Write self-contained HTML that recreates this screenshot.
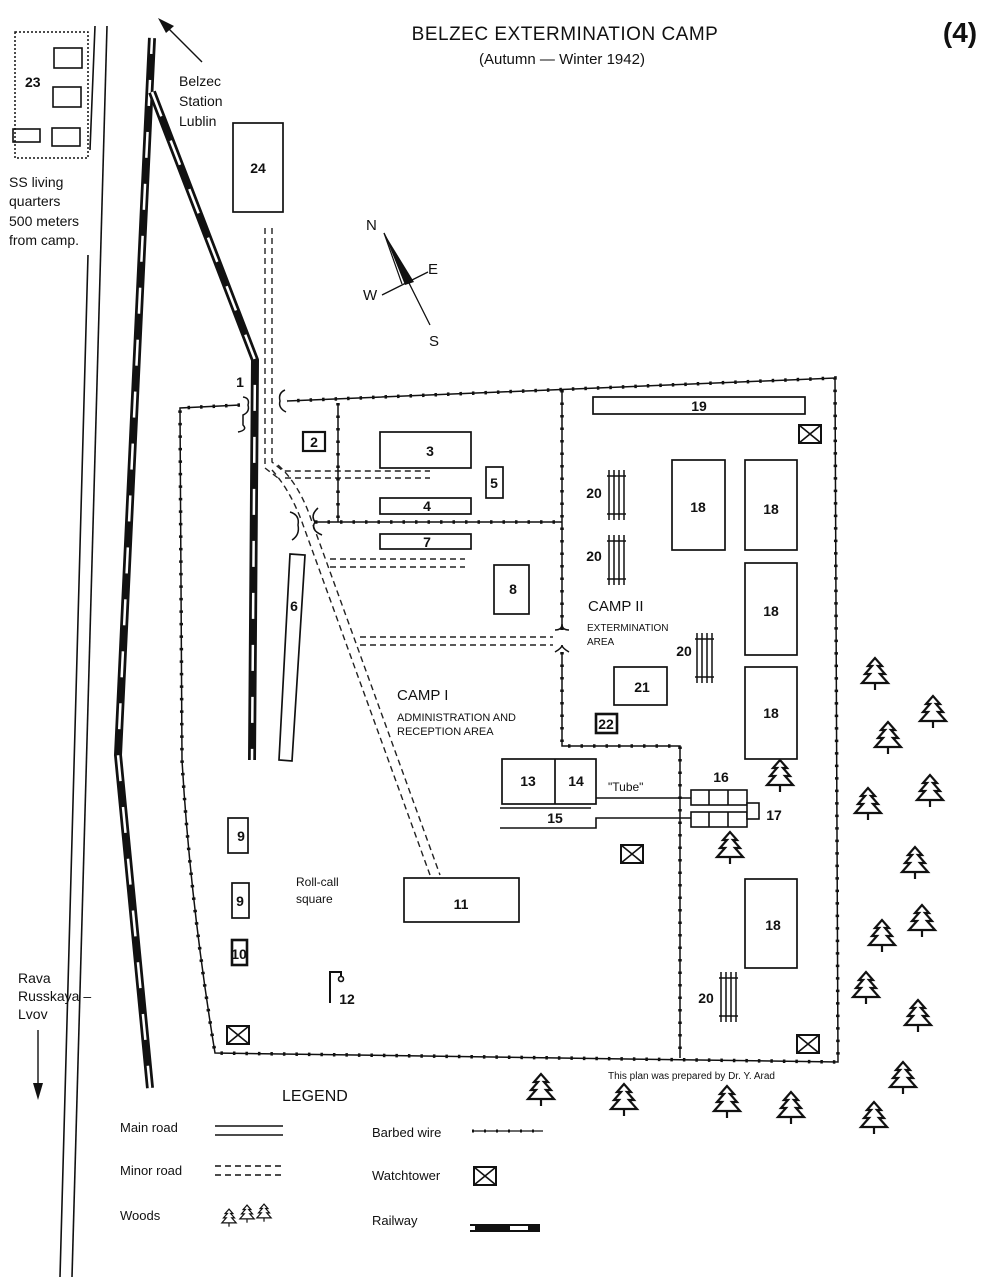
<!DOCTYPE html>
<html><head><meta charset="utf-8"><style>
body{margin:0;background:#fff}
svg{display:block}
text{font-family:"Liberation Sans",sans-serif;fill:#111}
.b{font-weight:bold}
</style></head><body>
<svg width="1000" height="1277" viewBox="0 0 1000 1277" xmlns="http://www.w3.org/2000/svg">
<defs>
<g id="tree" fill="none" stroke="#111" stroke-width="2.2" stroke-linejoin="miter">
<path d="M0,-18 L-7,-10 L-3,-10 L-10,-2 L-5,-2 L-13,7 L13,7 L5,-2 L10,-2 L3,-10 L7,-10 Z" fill="#fff"/>
<path d="M0,7 L0,14"/>
</g>
<g id="wt"><rect x="-11" y="-9" width="22" height="18" fill="#fff" stroke="#111" stroke-width="2"/><path d="M-11,-9 L11,9 M11,-9 L-11,9" stroke="#111" stroke-width="1.6"/></g>
<g id="rack" stroke="#111" stroke-width="1.5"><path d="M2,0 V50 M7,0 V50 M12,0 V50 M17,0 V50 M0,6 H19 M0,44 H19"/></g>
</defs>

<!-- titles -->
<text x="565" y="40" font-size="19" text-anchor="middle" letter-spacing="0.5">BELZEC EXTERMINATION CAMP</text>
<text x="562" y="64" font-size="15" text-anchor="middle">(Autumn — Winter 1942)</text>
<text x="960" y="42" font-size="28" class="b" text-anchor="middle">(4)</text>

<!-- main road -->
<g stroke="#111" stroke-width="1.6" fill="none">
<path d="M95,26 L90,150 M88,255 L60,1277"/>
<path d="M107,26 L72,1277"/>
</g>

<!-- SS quarters 23 -->
<g fill="none" stroke="#111">
<path d="M15,32 H88 V158 H15 Z" stroke-width="1.5" stroke-dasharray="2 2"/>
<rect x="54" y="48" width="28" height="20" stroke-width="1.6"/>
<rect x="53" y="87" width="28" height="20" stroke-width="1.6"/>
<rect x="52" y="128" width="28" height="18" stroke-width="1.6"/>
<rect x="13" y="129" width="27" height="13" stroke-width="1.6"/>
</g>
<text x="25" y="87" font-size="14" class="b">23</text>
<text x="9" y="187" font-size="14">SS living</text>
<text x="9" y="206" font-size="14">quarters</text>
<text x="9" y="226" font-size="14">500 meters</text>
<text x="9" y="245" font-size="14">from camp.</text>

<!-- arrow to Belzec station -->
<path d="M202,62 L165,25" stroke="#111" stroke-width="1.4"/>
<path d="M158,18 L174,26 L166,33 Z" fill="#111"/>
<text x="179" y="86" font-size="14">Belzec</text>
<text x="179" y="106" font-size="14">Station</text>
<text x="179" y="126" font-size="14">Lublin</text>

<!-- Rava Russkaya -->
<text x="18" y="983" font-size="14">Rava</text>
<text x="18" y="1001" font-size="14">Russkaya –</text>
<text x="18" y="1019" font-size="14">Lvov</text>
<path d="M38,1030 V1090" stroke="#111" stroke-width="1.4"/>
<path d="M33,1083 L38,1100 L43,1083 Z" fill="#111"/>

<!-- railway -->
<g fill="none" stroke-linejoin="round">
<path d="M152,38 L118,755 L150,1088" stroke="#111" stroke-width="8"/>
<path d="M152,38 L118,755 L150,1088" stroke="#fff" stroke-width="2.5" stroke-dasharray="26 26" stroke-dashoffset="10"/>
<path d="M152,92 L255,360 L252,760" stroke="#111" stroke-width="8"/>
<path d="M152,92 L255,360 L252,760" stroke="#fff" stroke-width="2.5" stroke-dasharray="26 26"/>
</g>

<!-- minor roads -->
<g fill="none" stroke="#222" stroke-width="1.4" stroke-dasharray="6 4">
<path d="M265,228 V468 L278,478"/>
<path d="M272,228 V462 L283,471 H430"/>
<path d="M285,478 H430"/>
<path d="M272,470 Q290,490 302,522 L430,875"/>
<path d="M278,465 Q300,485 312,522 L440,875"/>
<path d="M330,559 H465 M330,567 H465"/>
<path d="M360,637 H553 M360,645 H553"/>
</g>

<!-- barbed wire -->
<g fill="none" stroke="#111" stroke-width="1.5">
<path id="bw" d="M240,405 L180,408 L182,760 Q190,900 215,1053 L838,1062 L835,378 L287,401"/>
<path d="M562,390 V630 M562,652 V746 H680 V1058"/>
<path d="M338,403 V522 M315,522 H562"/>
</g>
<g fill="none" stroke="#111" stroke-width="3.5" stroke-dasharray="2.5 10">
<path d="M240,405 L180,408 L182,760 Q190,900 215,1053 L838,1062 L835,378 L287,401"/>
<path d="M562,390 V630 M562,652 V746 H680 V1058"/>
<path d="M338,403 V522 M315,522 H562"/>
</g>
<!-- gates -->
<g fill="none" stroke="#111" stroke-width="1.5">
<path d="M243,397 Q250,398 248,405 Q250,412 243,415 V425 Q248,430 238,432"/>
<path d="M285,390 Q278,393 280,401 Q278,408 286,412"/>
<path d="M290,512 Q300,515 298,525 Q300,535 292,540"/>
<path d="M318,508 Q310,515 315,522 Q310,530 322,535"/>
<path d="M555,630 Q562,630 562,624 Q562,630 569,630"/>
<path d="M555,652 Q562,648 562,645 Q562,648 569,652"/>
</g>

<!-- buildings -->
<g fill="#fff" stroke="#111" stroke-width="1.7">
<rect x="233" y="123" width="50" height="89"/>
<rect x="303" y="432" width="22" height="19" stroke-width="2.2"/>
<rect x="380" y="432" width="91" height="36"/>
<rect x="486" y="467" width="17" height="31"/>
<rect x="380" y="498" width="91" height="16"/>
<rect x="380" y="534" width="91" height="15"/>
<rect x="494" y="565" width="35" height="49"/>
<path d="M290,554 L305,555 L292,761 L279,760 Z"/>
<rect x="593" y="397" width="212" height="17"/>
<rect x="672" y="460" width="53" height="90"/>
<rect x="745" y="460" width="52" height="90"/>
<rect x="745" y="563" width="52" height="92"/>
<rect x="745" y="667" width="52" height="92"/>
<rect x="745" y="879" width="52" height="89"/>
<rect x="614" y="667" width="53" height="38"/>
<rect x="596" y="714" width="21" height="19" stroke-width="2.6"/>
<rect x="502" y="759" width="94" height="45"/>
<path d="M555,759 V804"/>
<rect x="404" y="878" width="115" height="44"/>
<rect x="228" y="818" width="20" height="35"/>
<rect x="232" y="883" width="17" height="35"/>
<rect x="232" y="940" width="15" height="25" stroke-width="2.6"/>
</g>
<!-- tube and chambers -->
<g fill="none" stroke="#111" stroke-width="1.6">
<path d="M596,798 H691 M591,808 H500"/>
<path d="M691,818 H596 V828 H500"/>
<rect x="691" y="790" width="56" height="15" fill="#fff"/>
<rect x="691" y="812" width="56" height="15" fill="#fff"/>
<path d="M709,790 V805 M728,790 V805 M709,812 V827 M728,812 V827"/>
<rect x="747" y="803" width="12" height="16" fill="#fff"/>
<path d="M330,1003 V972 H341 V976" stroke-width="2"/>
<circle cx="341" cy="979" r="2.5"/>
</g>

<!-- racks 20 -->
<use href="#rack" x="607" y="470"/>
<use href="#rack" x="607" y="535" transform="translate(0,0)"/>
<use href="#rack" x="695" y="633" transform="translate(0,0)"/>
<use href="#rack" x="719" y="972"/>

<!-- watchtowers -->
<use href="#wt" x="810" y="434"/>
<use href="#wt" x="632" y="854"/>
<use href="#wt" x="238" y="1035"/>
<use href="#wt" x="808" y="1044"/>

<!-- trees -->
<use href="#tree" x="875" y="676"/>
<use href="#tree" x="933" y="714"/>
<use href="#tree" x="888" y="740"/>
<use href="#tree" x="780" y="778"/>
<use href="#tree" x="930" y="793"/>
<use href="#tree" x="868" y="806"/>
<use href="#tree" x="730" y="850"/>
<use href="#tree" x="915" y="865"/>
<use href="#tree" x="922" y="923"/>
<use href="#tree" x="882" y="938"/>
<use href="#tree" x="866" y="990"/>
<use href="#tree" x="918" y="1018"/>
<use href="#tree" x="903" y="1080"/>
<use href="#tree" x="541" y="1092"/>
<use href="#tree" x="624" y="1102"/>
<use href="#tree" x="727" y="1104"/>
<use href="#tree" x="791" y="1110"/>
<use href="#tree" x="874" y="1120"/>

<!-- compass -->
<path d="M384,233 L414,282 L405,285 Z" fill="#111"/>
<path d="M384,233 L402,284" stroke="#111" stroke-width="1.2"/>
<path d="M384,233 L430,325 M382,295 L428,272" stroke="#111" stroke-width="1.3"/>
<text x="366" y="230" font-size="15">N</text>
<text x="428" y="274" font-size="15">E</text>
<text x="363" y="300" font-size="15">W</text>
<text x="429" y="346" font-size="15">S</text>

<!-- labels -->
<g font-size="14" class="b" text-anchor="middle">
<text x="258" y="173">24</text>
<text x="240" y="387">1</text>
<text x="314" y="447">2</text>
<text x="430" y="456">3</text>
<text x="494" y="488">5</text>
<text x="427" y="511">4</text>
<text x="427" y="547">7</text>
<text x="513" y="594">8</text>
<text x="294" y="611">6</text>
<text x="699" y="411">19</text>
<text x="698" y="512">18</text>
<text x="771" y="514">18</text>
<text x="771" y="616">18</text>
<text x="771" y="718">18</text>
<text x="773" y="930">18</text>
<text x="594" y="498">20</text>
<text x="594" y="561">20</text>
<text x="684" y="656">20</text>
<text x="706" y="1003">20</text>
<text x="642" y="692">21</text>
<text x="606" y="729">22</text>
<text x="528" y="786">13</text>
<text x="576" y="786">14</text>
<text x="721" y="782">16</text>
<text x="774" y="820">17</text>
<text x="555" y="823">15</text>
<text x="241" y="841">9</text>
<text x="240" y="906">9</text>
<text x="239" y="959">10</text>
<text x="461" y="909">11</text>
<text x="347" y="1004">12</text>
</g>
<text x="608" y="791" font-size="12">"Tube"</text>
<text x="588" y="611" font-size="15">CAMP II</text>
<text x="587" y="631" font-size="10">EXTERMINATION</text>
<text x="587" y="645" font-size="10">AREA</text>
<text x="397" y="700" font-size="15">CAMP I</text>
<text x="397" y="721" font-size="11">ADMINISTRATION AND</text>
<text x="397" y="735" font-size="11">RECEPTION AREA</text>
<text x="296" y="886" font-size="12">Roll-call</text>
<text x="296" y="903" font-size="12">square</text>
<text x="608" y="1079" font-size="10">This plan was prepared by Dr. Y. Arad</text>

<!-- legend -->
<text x="282" y="1101" font-size="16">LEGEND</text>
<text x="120" y="1132" font-size="13">Main road</text>
<path d="M215,1126 H283 M215,1135 H283" stroke="#111" stroke-width="1.5"/>
<text x="120" y="1175" font-size="13">Minor road</text>
<path d="M215,1166 H283 M215,1175 H283" stroke="#111" stroke-width="1.5" stroke-dasharray="6 4"/>
<text x="120" y="1220" font-size="13">Woods</text>
<use href="#tree" transform="translate(229,1219) scale(0.55)"/>
<use href="#tree" transform="translate(247,1215) scale(0.55)"/>
<use href="#tree" transform="translate(264,1214) scale(0.55)"/>
<text x="372" y="1137" font-size="13">Barbed wire</text>
<path d="M472,1131 H543" stroke="#111" stroke-width="1.3"/>
<path d="M472,1131 H543" stroke="#111" stroke-width="3" stroke-dasharray="2 10"/>
<text x="372" y="1180" font-size="13">Watchtower</text>
<use href="#wt" x="485" y="1176"/>
<text x="372" y="1225" font-size="13">Railway</text>
<rect x="470" y="1224" width="70" height="8" fill="#111"/>
<rect x="470" y="1226" width="5" height="4" fill="#fff"/>
<rect x="510" y="1226" width="18" height="4" fill="#fff"/>
</svg>
</body></html>
